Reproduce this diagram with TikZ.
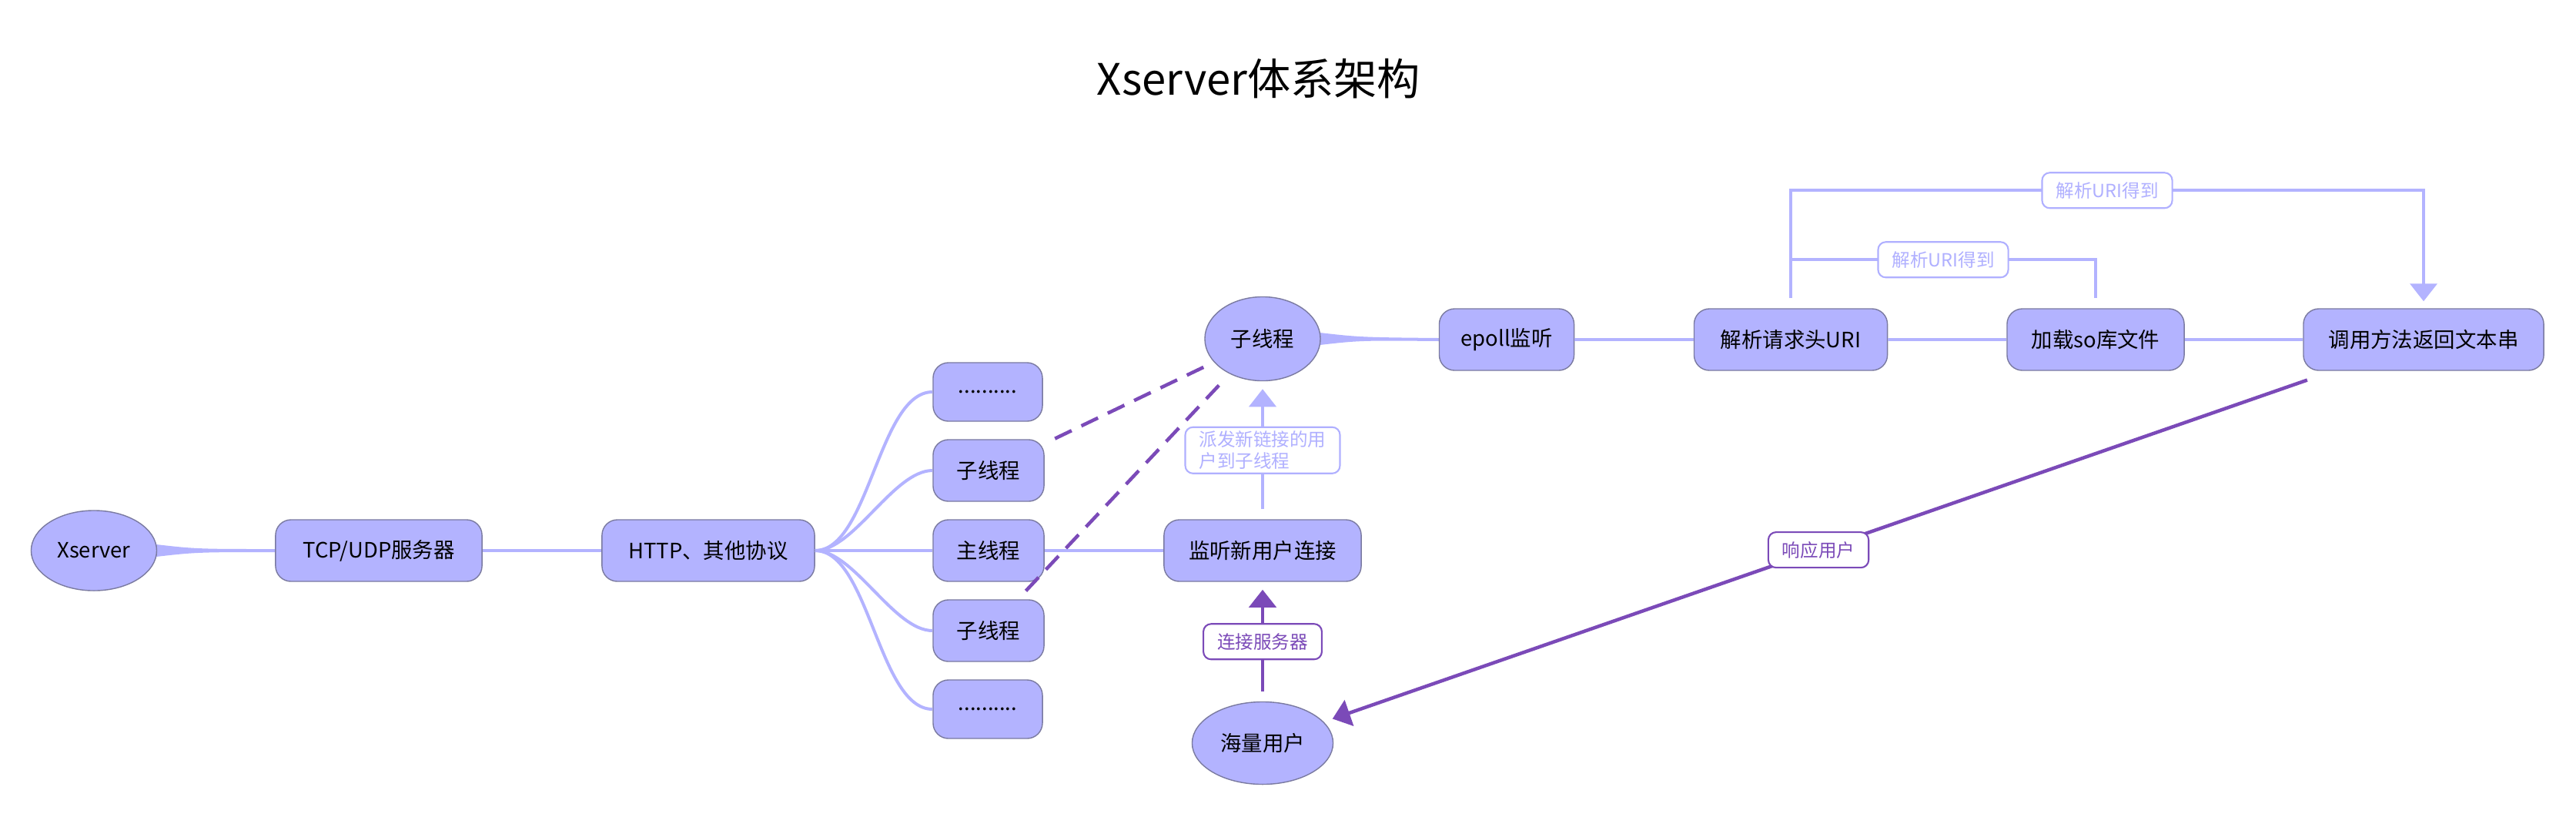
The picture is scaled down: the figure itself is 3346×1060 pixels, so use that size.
\documentclass[tikz,border=0pt]{standalone}
\usepackage{fontspec}
\setmainfont{Noto Sans CJK SC}
\usepackage{tikz}
\usepackage{xcolor}
\usetikzlibrary{shapes.geometric,arrows.meta,positioning,calc,backgrounds}
\definecolor{boxBlue}{RGB}{179,179,255}
\definecolor{boxEdge}{RGB}{122,122,160}
\definecolor{linkBlue}{RGB}{179,179,255}
\definecolor{tagBlue}{RGB}{176,176,255}
\definecolor{darkPurple}{RGB}{123,74,184}
\newcommand{\boxfont}{\fontsize{7.8}{9.4}\selectfont}
\newcommand{\tagfont}{\fontsize{6.7}{8}\selectfont}
\newcommand{\titlefont}{\fontsize{16}{19}\selectfont}
\tikzset{
  box/.style={draw=boxEdge,fill=boxBlue,rounded corners=0.2cm,minimum height=0.8cm,font=\boxfont,line width=0.4pt},
  oval/.style={ellipse,draw=boxEdge,fill=boxBlue,font=\boxfont,line width=0.4pt,inner sep=0pt},
  link/.style={draw=linkBlue,line width=0.04cm},
  pushlink/.style={draw=darkPurple,line width=0.045cm},
  headed/.style={-{Triangle[length=0.23cm,width=0.35cm]}},
  tag/.style={draw=tagBlue,fill=white,text=tagBlue,rounded corners=0.1cm,font=\tagfont,inner xsep=0.18cm,inner ysep=0.05cm,minimum height=0.46cm,line width=0.6pt,align=left},
  pushtag/.style={tag,draw=darkPurple,text=darkPurple},
}

\begin{document}
\begin{tikzpicture}[x=0.01cm,y=-0.01cm]
    \useasboundingbox (0,0) rectangle (3346,1060);
    \node (title) at (1635,102) {\titlefont Xserver体系架构};

    % server side
    \node[oval,minimum width=1.63cm,minimum height=1.04cm] (xs) at (122,715) {Xserver};
    \node[box,minimum width=2.68cm] (tcp) at (492,715) {TCP/UDP服务器};
    \node[box,minimum width=2.76cm] (http) at (920,715) {HTTP、其他协议};

    % threads
    \node[box,minimum width=1.42cm,minimum height=0.76cm] (dotsA) at (1283,509) {..........};
    \node[box,minimum width=1.44cm] (subA) at (1284,611) {子线程};
    \node[box,minimum width=1.44cm] (mainT) at (1284,715) {主线程};
    \node[box,minimum width=1.44cm] (subB) at (1284,819) {子线程};
    \node[box,minimum width=1.42cm,minimum height=0.76cm] (dotsB) at (1283,921) {..........};

    % listener and users
    \node[box,minimum width=2.56cm] (listen) at (1640,715) {监听新用户连接};
    \node[oval,minimum width=1.5cm,minimum height=1.09cm] (subE) at (1640,440) {子线程};
    \node[oval,minimum width=1.83cm,minimum height=1.07cm] (users) at (1640,965) {海量用户};

    % request chain
    \node[box,minimum width=1.75cm] (epoll) at (1957,441) {epoll监听};
    \node[box,minimum width=2.51cm] (parse) at (2326,441) {解析请求头URI};
    \node[box,minimum width=2.30cm] (load) at (2722,441) {加载so库文件};
    \node[box,minimum width=3.12cm] (call) at (3148,441) {调用方法返回文本串};

    % tapered links
    \begin{scope}[on background layer]
        \fill[linkBlue] ($(xs.east)+(-10,-9)$) .. controls ($(xs.east)+(50,-2)$) .. ($(tcp.west)+(0,-2)$)
            -- ($(tcp.west)+(0,2)$) .. controls ($(xs.east)+(50,2)$) .. ($(xs.east)+(-10,9)$) -- cycle;
        \fill[linkBlue] ($(subE.east)+(-10,-9)$) .. controls ($(subE.east)+(50,-2)$) .. ($(epoll.west)+(0,-2)$)
            -- ($(epoll.west)+(0,2)$) .. controls ($(subE.east)+(50,2)$) .. ($(subE.east)+(-10,9)$) -- cycle;
    \end{scope}

    \draw[link] (tcp) -- (http);
    \draw[link] (http) -- (mainT);
    \draw[link] (mainT) -- (listen);
    \foreach \t in {dotsA,subA,subB,dotsB}
        \draw[link] (http.east) to[out=0,in=180,looseness=0.7] (\t.west);

    \draw[link] (epoll) -- (parse);
    \draw[link] (parse) -- (load);
    \draw[link] (load) -- (call);
    \draw[link,headed] ($(parse.north)+(0,-13)$) -- ++(0,-140) -| ($(call.north)+(0,-9)$)
        node[tag,pos=0.25] {解析URI得到};
    \draw[link] ($(parse.north)+(0,-63)$) -| ($(load.north)+(0,-13)$)
        node[tag,pos=0.25] {解析URI得到};

    \draw[link,headed,shorten <=0.13cm,shorten >=0.1cm] (listen) -- (subE)
        node[tag,midway] {派发新链接的用\\户到子线程};
    \draw[pushlink,headed,shorten <=0.13cm,shorten >=0.1cm] (users) -- (listen)
        node[pushtag,midway] {连接服务器};
    \draw[pushlink,headed,shorten <=0.36cm,shorten >=0.12cm] (call) -- (users)
        node[pushtag,pos=0.51] {响应用户};

    % hand-over to worker threads
    \draw[pushlink,dash pattern=on 0.24cm off 0.14cm,shorten <=0.15cm,shorten >=0.15cm] (subA) -- (subE);
    \draw[pushlink,dash pattern=on 0.24cm off 0.14cm,shorten <=0.15cm,shorten >=0.15cm] (subB) -- (subE);
\end{tikzpicture}
\end{document}
